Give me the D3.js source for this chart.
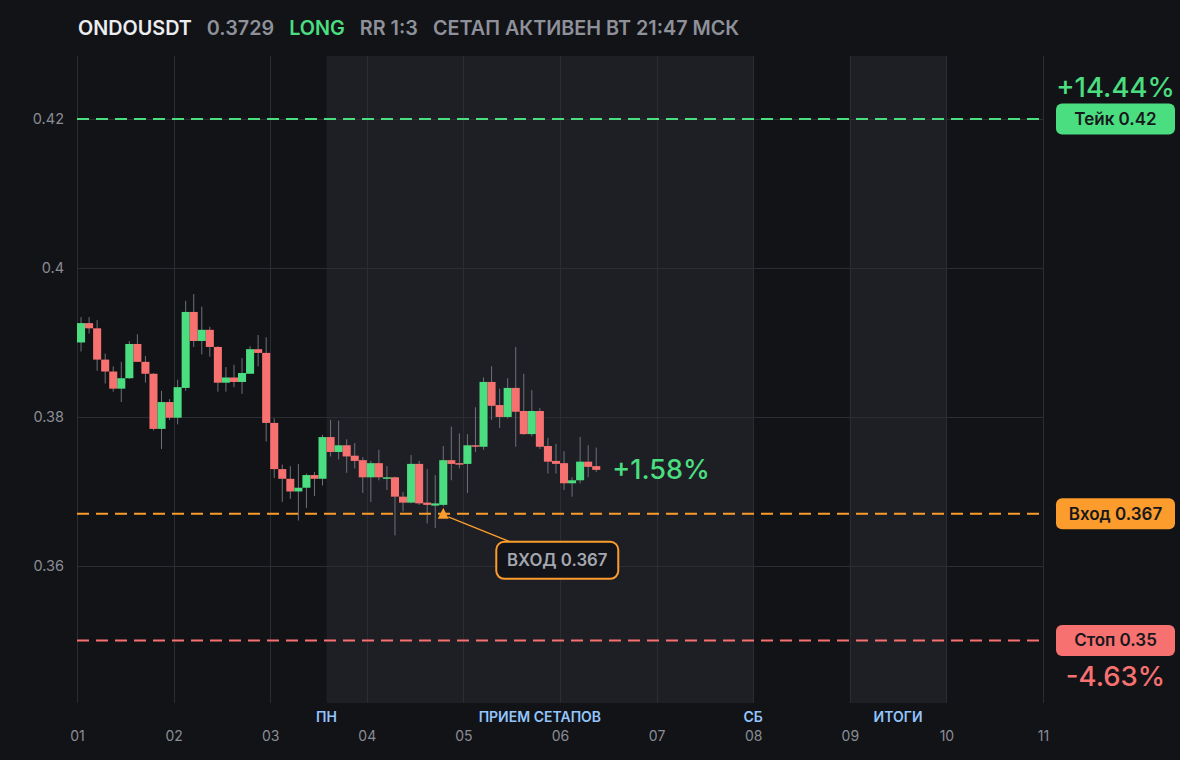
<!DOCTYPE html>
<html>
<head>
<meta charset="utf-8">
<script src="https://cdn.jsdelivr.net/npm/d3@7"></script>
<style>
  body { margin: 0; background: #121317; }
  svg { display: block; font-family: Inter, "Noto Sans", sans-serif; }
</style>
</head>
<body>
<svg id="chart" width="1180" height="760"></svg>
<script>
const days = d3.range(1, 12);
const priceTicks = [0.36, 0.38, 0.40, 0.42];
const candleHours = 2;

// 2h candles starting on day 01 00:00
const opens = [0.3900, 0.3926, 0.3919, 0.3877, 0.3861, 0.3838, 0.3852, 0.3898, 0.3874, 0.3858,
  0.3784, 0.3820, 0.3799, 0.3839, 0.3941, 0.3902, 0.3917, 0.3894, 0.3846, 0.3853,
  0.3847, 0.3858, 0.3891, 0.3886, 0.3792, 0.3730, 0.3717, 0.3700, 0.3705, 0.3722,
  0.3717, 0.3773, 0.3753, 0.3762, 0.3748, 0.3742, 0.3719, 0.3738, 0.3717, 0.3719,
  0.3693, 0.3685, 0.3737, 0.3685, 0.3681, 0.3682, 0.3742, 0.3738, 0.3737, 0.3762,
  0.3760, 0.3847, 0.3816, 0.3800, 0.3839, 0.3808, 0.3777, 0.3808, 0.3761, 0.3741,
  0.3738, 0.3711, 0.3715, 0.3740, 0.3734];
const highs = [0.3934, 0.3934, 0.3930, 0.3885, 0.3868, 0.3874, 0.3902, 0.3911, 0.3882, 0.3859,
  0.3835, 0.3824, 0.3850, 0.3956, 0.3965, 0.3948, 0.3921, 0.3895, 0.3867, 0.3870,
  0.3879, 0.3895, 0.3910, 0.3907, 0.3798, 0.3736, 0.3734, 0.3737, 0.3724, 0.3726,
  0.3776, 0.3796, 0.3795, 0.3770, 0.3765, 0.3746, 0.3741, 0.3756, 0.3734, 0.3720,
  0.3699, 0.3749, 0.3741, 0.3730, 0.3722, 0.3761, 0.3787, 0.3778, 0.3777, 0.3813,
  0.3853, 0.3868, 0.3838, 0.3852, 0.3894, 0.3858, 0.3836, 0.3812, 0.3772, 0.3764,
  0.3754, 0.3719, 0.3773, 0.3762, 0.3759];
const lows = [0.3888, 0.3912, 0.3862, 0.3845, 0.3834, 0.3820, 0.3851, 0.3874, 0.3846, 0.3782,
  0.3757, 0.3796, 0.3790, 0.3835, 0.3894, 0.3884, 0.3881, 0.3834, 0.3834, 0.3840,
  0.3831, 0.3858, 0.3868, 0.3767, 0.3718, 0.3686, 0.3690, 0.3661, 0.3678, 0.3694,
  0.3708, 0.3747, 0.3743, 0.3725, 0.3731, 0.3698, 0.3686, 0.3715, 0.3702, 0.3641,
  0.3673, 0.3684, 0.3682, 0.3657, 0.3651, 0.3680, 0.3715, 0.3731, 0.3698, 0.3753,
  0.3756, 0.3796, 0.3785, 0.3798, 0.3760, 0.3776, 0.3774, 0.3757, 0.3724, 0.3724,
  0.3702, 0.3693, 0.3711, 0.3719, 0.3726];
const closes = [0.3926, 0.3919, 0.3877, 0.3861, 0.3838, 0.3852, 0.3898, 0.3874, 0.3858, 0.3784,
  0.3820, 0.3799, 0.3840, 0.3941, 0.3902, 0.3917, 0.3894, 0.3846, 0.3853, 0.3847,
  0.3859, 0.3891, 0.3886, 0.3792, 0.3730, 0.3717, 0.3700, 0.3705, 0.3722, 0.3717,
  0.3773, 0.3753, 0.3762, 0.3747, 0.3741, 0.3719, 0.3738, 0.3719, 0.3719, 0.3693,
  0.3685, 0.3737, 0.3684, 0.3682, 0.3684, 0.3742, 0.3737, 0.3736, 0.3762, 0.3760,
  0.3847, 0.3815, 0.3800, 0.3839, 0.3807, 0.3777, 0.3808, 0.3760, 0.3740, 0.3737,
  0.3711, 0.3715, 0.3740, 0.3733, 0.3729];

const levelNames = ["Тейк", "Вход", "Стоп"];
const levelValues = [0.42, 0.367, 0.35];
const levelColors = ["#4ade80", "#fb9c2c", "#f87171"];
const levelPcts = ["+14.44%", null, "-4.63%"];

const currentPrice = 0.3729;
const currentPct = "+1.58%";
const entryIndex = 45;

const bandRanges = [[3 + 14 / 24, 8], [9, 10]];
const bandLabels = ["ПН", "ПРИЕМ СЕТАПОВ", "СБ", "ИТОГИ"];
const bandLabelDays = [3 + 14 / 24, (3 + 14 / 24 + 8) / 2, 8, 9.5];

const header = [
  { text: "ONDOUSDT", color: "#ecedf0" },
  { text: "0.3729", color: "#8e9199" },
  { text: "LONG", color: "#4ade80" },
  { text: "RR 1:3", color: "#8e9199" },
  { text: "СЕТАП АКТИВЕН ВТ 21:47 МСК", color: "#8e9199" }
];

const svg = d3.select("#chart");
const plot = { left: 77, right: 1043, top: 56, bottom: 703 };

const x = d3.scaleLinear().domain([1, 11]).range([plot.left, plot.right]);
const y = d3.scaleLinear().domain([0.3416, 0.42846]).range([plot.bottom, plot.top]);

svg.append("rect").attr("width", 1180).attr("height", 760).attr("fill", "#121317");

// session bands
svg.append("g")
  .selectAll("rect")
  .data(bandRanges)
  .enter()
  .append("rect")
  .attr("x", d => x(d[0]))
  .attr("y", plot.top)
  .attr("width", d => x(d[1]) - x(d[0]))
  .attr("height", plot.bottom - plot.top)
  .attr("fill", "#1e1f24");

// grid
const grid = svg.append("g").attr("stroke", "#2b2d33").attr("stroke-width", 1);
grid.selectAll(".v")
  .data(days)
  .enter()
  .append("line")
  .attr("x1", d => Math.round(x(d)) + 0.5)
  .attr("x2", d => Math.round(x(d)) + 0.5)
  .attr("y1", plot.top)
  .attr("y2", plot.bottom);
grid.selectAll(".h")
  .data(priceTicks)
  .enter()
  .append("line")
  .attr("x1", plot.left)
  .attr("x2", plot.right)
  .attr("y1", d => Math.round(y(d)) + 0.5)
  .attr("y2", d => Math.round(y(d)) + 0.5);

// axes
const yAxis = svg.append("g")
  .attr("transform", `translate(${plot.left},0)`)
  .call(d3.axisLeft(y).tickValues(priceTicks).tickSize(0).tickPadding(13)
    .tickFormat(d => String(+d.toFixed(2))));
yAxis.select(".domain").remove();
yAxis.selectAll("text").attr("fill", "#8a8d95").attr("font-size", 14.5)
  .attr("font-family", "Inter, sans-serif");

const xAxis = svg.append("g")
  .attr("transform", `translate(0,${plot.bottom})`)
  .call(d3.axisBottom(x).tickValues(days).tickSize(0).tickPadding(28)
    .tickFormat(d3.format("02d")));
xAxis.select(".domain").remove();
xAxis.selectAll("text").attr("fill", "#8a8d95").attr("font-size", 14)
  .attr("font-family", "Inter, sans-serif");

svg.append("g")
  .selectAll("text")
  .data(bandLabels)
  .enter()
  .append("text")
  .attr("x", (d, i) => x(bandLabelDays[i]))
  .attr("y", 722)
  .attr("text-anchor", "middle")
  .attr("font-size", 14)
  .attr("font-weight", 600)
  .attr("fill", "#93c5fd")
  .text(d => d);

// candles
const candles = opens.map((o, i) => ({
  t: 1 + i * candleHours / 24, o, h: highs[i], l: lows[i], c: closes[i]
}));
const step = x(1 + candleHours / 24) - x(1);

const cg = svg.append("g");
cg.selectAll("line")
  .data(candles)
  .enter()
  .append("line")
  .attr("x1", d => x(d.t) + step / 2)
  .attr("x2", d => x(d.t) + step / 2)
  .attr("y1", d => y(d.h))
  .attr("y2", d => y(d.l))
  .attr("stroke", "#6e717a")
  .attr("stroke-width", 1);
cg.selectAll("rect")
  .data(candles)
  .enter()
  .append("rect")
  .attr("x", d => x(d.t))
  .attr("y", d => y(Math.max(d.o, d.c)))
  .attr("width", step)
  .attr("height", d => Math.max(1.5, Math.abs(y(d.o) - y(d.c))))
  .attr("fill", d => d.c >= d.o ? "#4ade80" : "#f87171");

// level lines
svg.append("g")
  .selectAll("line")
  .data(levelValues)
  .enter()
  .append("line")
  .attr("x1", plot.left)
  .attr("x2", plot.right - 3)
  .attr("y1", d => y(d))
  .attr("y2", d => y(d))
  .attr("stroke", (d, i) => levelColors[i])
  .attr("stroke-width", 2)
  .attr("stroke-dasharray", "12 7");

// right badges
const badge = svg.append("g")
  .selectAll("g")
  .data(levelValues)
  .enter()
  .append("g")
  .attr("transform", d => `translate(1056,${y(d) - 15.5})`);
badge.append("rect")
  .attr("width", 119)
  .attr("height", 31)
  .attr("rx", 6)
  .attr("fill", (d, i) => levelColors[i]);
badge.append("text")
  .attr("x", 59.5)
  .attr("y", 21.5)
  .attr("text-anchor", "middle")
  .attr("font-size", 17)
  .attr("font-weight", 600)
  .attr("fill", "#17181c")
  .text((d, i) => `${levelNames[i]} ${d}`);

svg.append("g")
  .selectAll("text")
  .data(levelValues.filter((d, i) => levelPcts[i]))
  .enter()
  .append("text")
  .attr("x", 1115.5)
  .attr("y", d => d > levelValues[1] ? y(d) - 22 : y(d) + 46)
  .attr("text-anchor", "middle")
  .attr("font-size", 27.5)
  .attr("font-weight", 500)
  .attr("fill", d => levelColors[levelValues.indexOf(d)])
  .text(d => levelPcts[levelValues.indexOf(d)]);

// current price label
const last = candles[candles.length - 1];
svg.append("text")
  .attr("x", x(last.t) + step + 12)
  .attr("y", y(currentPrice) + 9.5)
  .attr("font-size", 27)
  .attr("font-weight", 500)
  .attr("fill", "#4ade80")
  .text(currentPct);

// entry marker and callout
const ex = x(candles[entryIndex].t) + step / 2;
const ey = y(levelValues[1]);
svg.append("line")
  .attr("x1", ex + 5).attr("y1", ey + 3)
  .attr("x2", ex + 67).attr("y2", ey + 28)
  .attr("stroke", "#fb9c2c").attr("stroke-width", 1.3);
svg.append("path")
  .attr("d", `M${ex},${ey - 6}L${ex + 5.5},${ey + 5}L${ex - 5.5},${ey + 5}Z`)
  .attr("fill", "#fb9c2c");
const callout = svg.append("g").attr("transform", `translate(${ex + 53},${ey + 28})`);
callout.append("rect")
  .attr("width", 122)
  .attr("height", 37)
  .attr("rx", 8)
  .attr("fill", "#131419")
  .attr("stroke", "#fb9c2c")
  .attr("stroke-width", 2);
callout.append("text")
  .attr("x", 61)
  .attr("y", 24.5)
  .attr("text-anchor", "middle")
  .attr("font-size", 16.8)
  .attr("font-weight", 600)
  .attr("fill", "#a4a7af")
  .text("ВХОД " + levelValues[1]);

// header
const hg = svg.append("g").attr("font-size", 19.8).attr("font-weight", 600);
let hx = 78;
header.forEach(item => {
  const t = hg.append("text").attr("x", hx).attr("y", 35).attr("fill", item.color).text(item.text);
  hx += t.node().getComputedTextLength() + 15;
});
</script>
</body>
</html>
